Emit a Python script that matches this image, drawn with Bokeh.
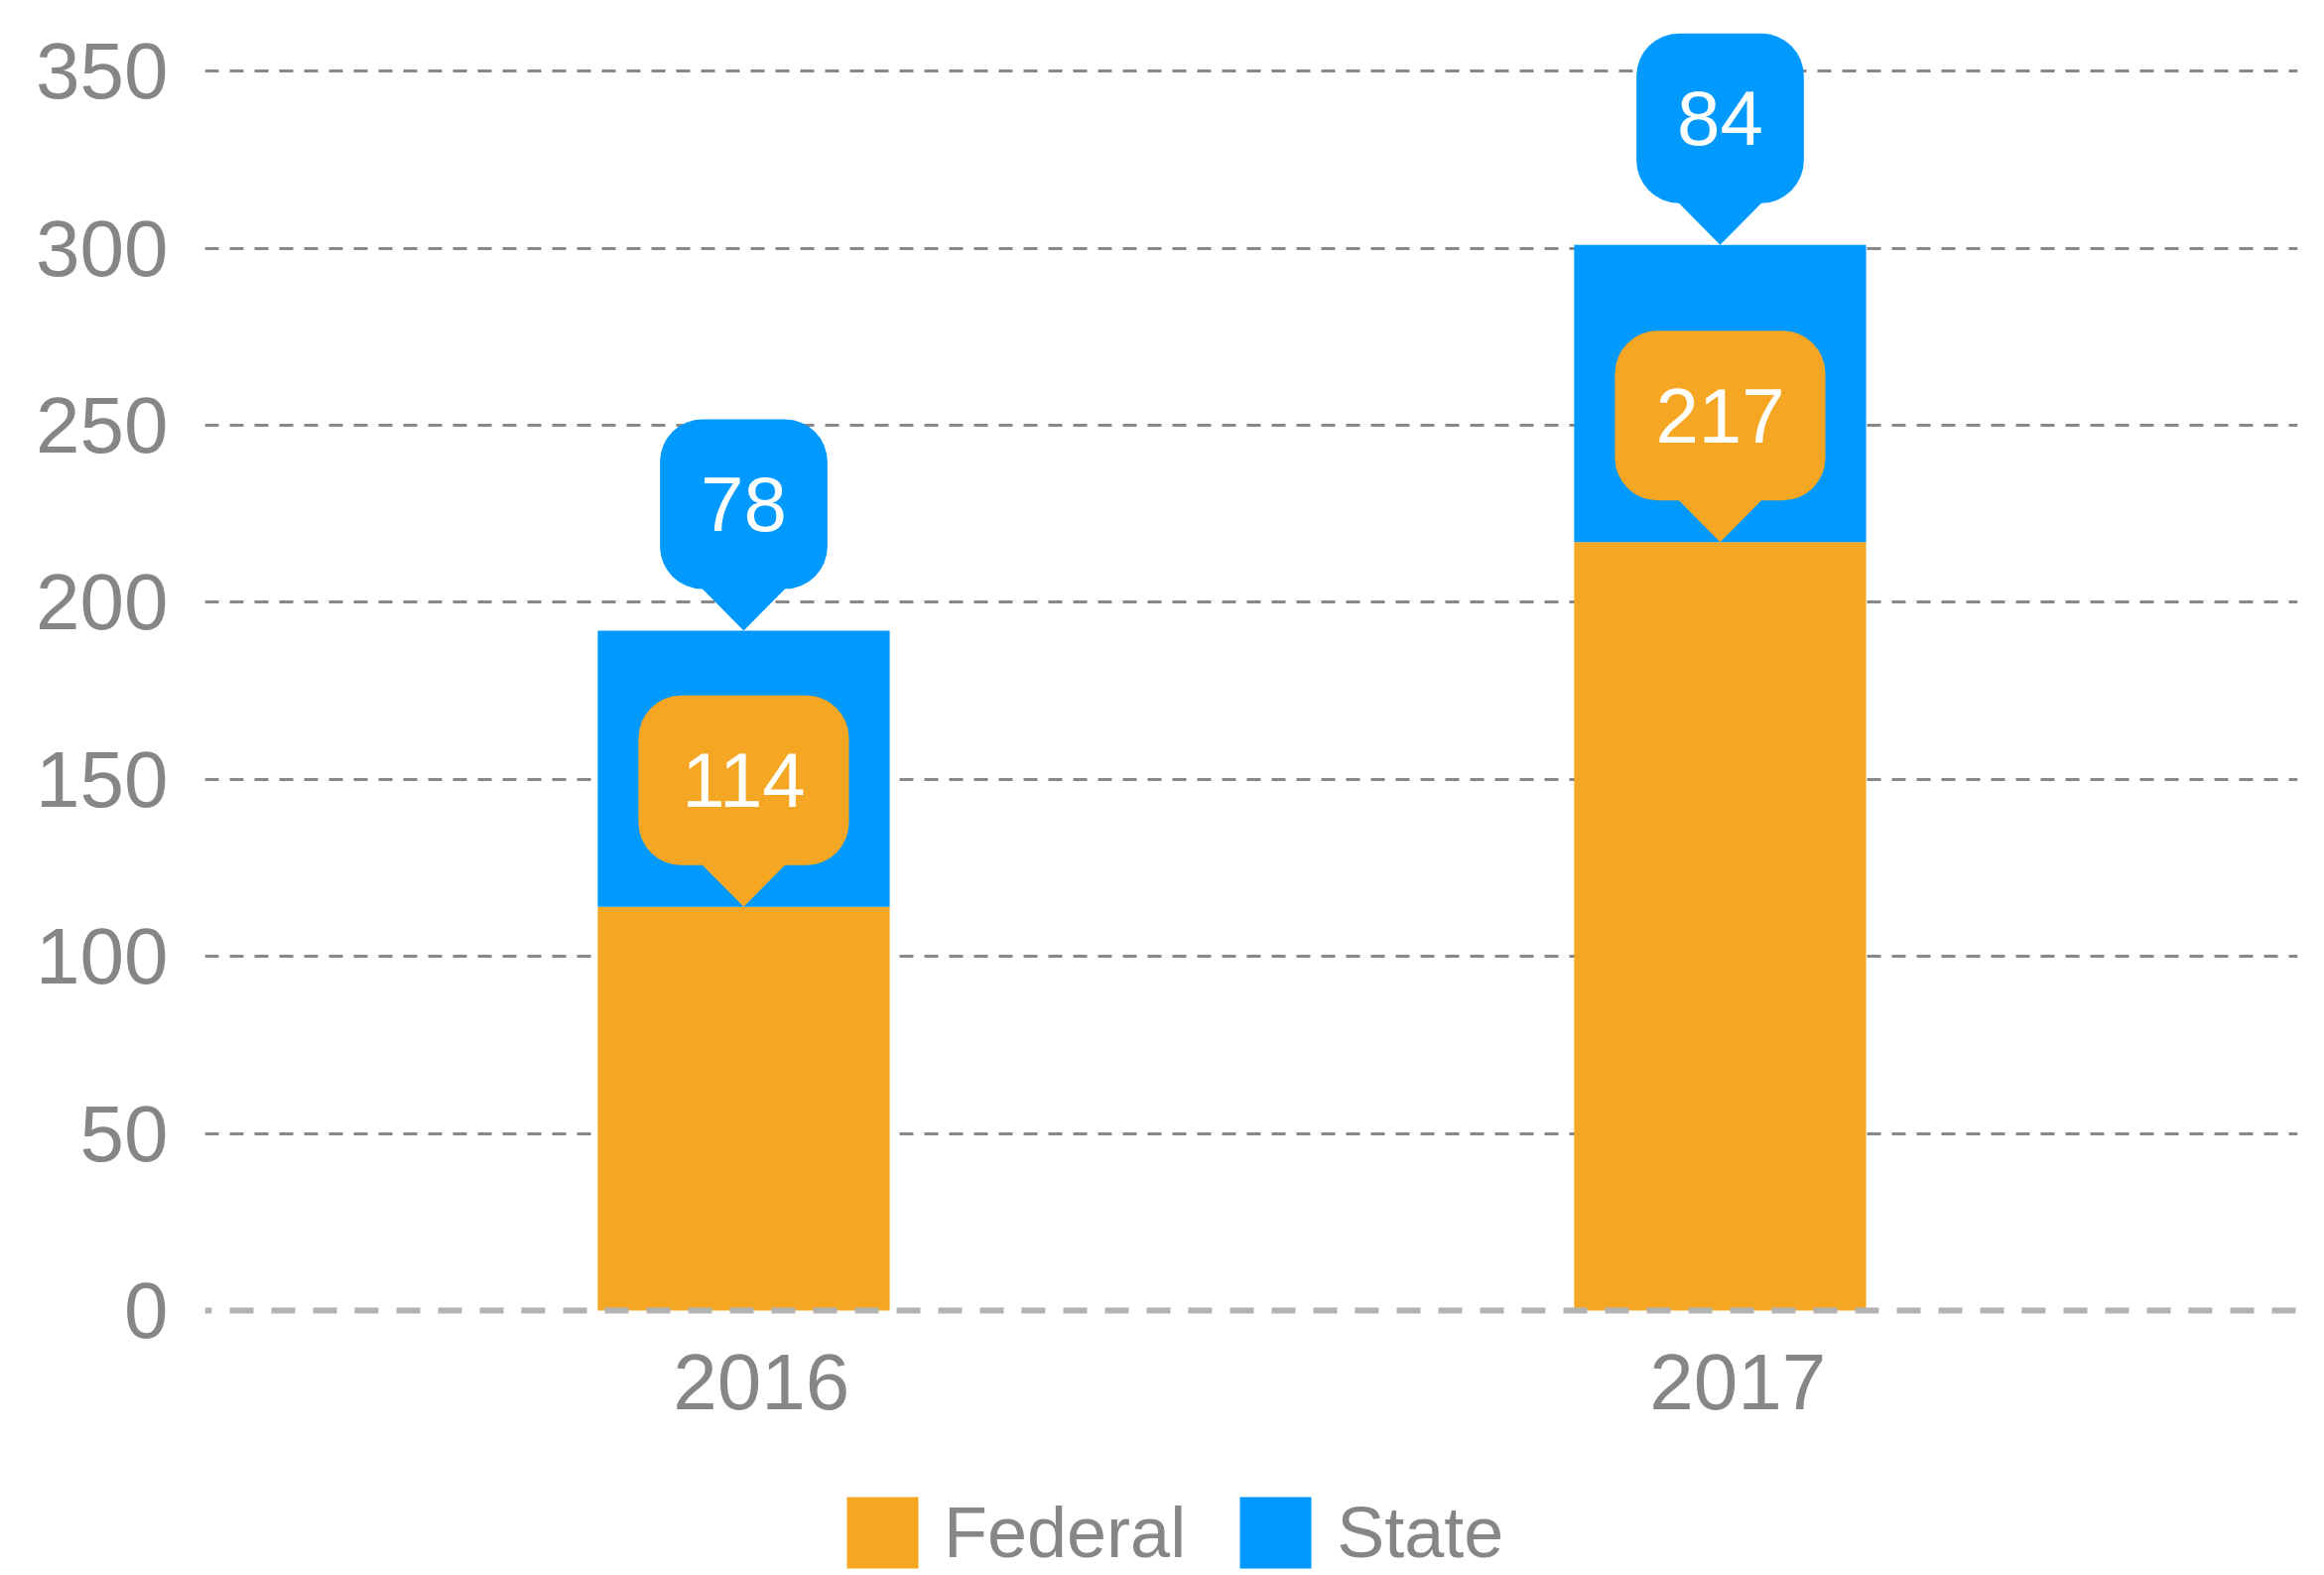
from bokeh.plotting import figure
from bokeh.models import Range1d, FixedTicker, Legend, LegendItem, ColumnDataSource, Span
from bokeh.core.properties import value
from bokeh.embed import file_html
from bokeh.resources import INLINE

# ---- data ----
years = ["2016", "2017"]
federal = [114, 217]
state = [78, 84]
y_ticks = [0, 50, 100, 150, 200, 250, 300, 350]

FED_C = "#F5A623"
STATE_C = "#009AFF"
TXT_C = "#868686"
FONT = "Liberation Sans"

FRAME_W, FRAME_H = 2109, 1587
ZERO_PX = 1320          # pixel row of value 0 from top
Y1 = 370
ky = ZERO_PX / Y1       # px per y unit
Y0 = -(FRAME_H - ZERO_PX) / ky
X0, X1 = -0.5518, 1.5915
kx = FRAME_W / (X1 - X0)   # px per x unit

p = figure(frame_width=FRAME_W, frame_height=FRAME_H,
           x_range=Range1d(X0, X1), y_range=Range1d(Y0, Y1),
           output_backend="svg", toolbar_location=None,
           min_border_left=206, min_border_right=27, min_border_top=0,
           min_border_bottom=0)
p.outline_line_color = None
p.background_fill_color = "white"

xs = list(range(len(years)))
tops_total = [f + s for f, s in zip(federal, state)]

src = ColumnDataSource(dict(x=xs, fed=federal, tot=tops_total,
                            zero=[0] * len(xs)))
r_fed = p.vbar(x="x", bottom="zero", top="fed", width=0.299, source=src,
               fill_color=FED_C, line_color=None)
r_state = p.vbar(x="x", bottom="fed", top="tot", width=0.299, source=src,
                 fill_color=STATE_C, line_color=None)

# zero baseline (dashed, light grey)
p.add_layout(Span(location=0, dimension="width", line_color="#b3b3b3",
                  line_width=6, line_dash="24 18", line_dash_offset=17))

# ---- callouts ----
PTR_H, BOX_H, HALF_BASE = 42, 171, 42.5
FS = 78

def callout(x_list, tips, labels, color):
    widths = [(0.556 * FS * len(t) + 82) / kx for t in labels]
    d = dict(
        left=[x - w / 2 for x, w in zip(x_list, widths)],
        right=[x + w / 2 for x, w in zip(x_list, widths)],
        bottom=[t + PTR_H / ky for t in tips],
        top=[t + (PTR_H + BOX_H) / ky for t in tips],
        ty=[t + (PTR_H + BOX_H / 2) / ky for t in tips],
        x=x_list, text=labels,
    )
    cs = ColumnDataSource(d)
    p.quad(left="left", right="right", bottom="bottom", top="top", source=cs,
           fill_color=color, line_color=None, border_radius=43)
    pxs = [[x - HALF_BASE / kx, x + HALF_BASE / kx, x] for x in x_list]
    pys = [[t + (PTR_H + 1) / ky, t + (PTR_H + 1) / ky, t] for t in tips]
    p.patches(xs=pxs, ys=pys, fill_color=color, line_color=None)
    p.text(x="x", y="ty", text="text", source=cs, text_align="center",
           text_baseline="middle", text_color="white",
           text_font=value(FONT), text_font_size=f"{FS}px")

callout(xs, federal, [str(v) for v in federal], FED_C)
callout(xs, tops_total, [str(v) for v in state], STATE_C)

# ---- y axis ----
p.yaxis.ticker = FixedTicker(ticks=y_ticks)
p.yaxis.axis_line_color = None
p.yaxis.major_tick_line_color = None
p.yaxis.minor_tick_line_color = None
p.yaxis.major_tick_out = 0
p.yaxis.major_label_standoff = 37
p.yaxis.major_label_text_font = FONT
p.yaxis.major_label_text_font_size = "80px"
p.yaxis.major_label_text_color = TXT_C

p.ygrid.ticker = FixedTicker(ticks=[t for t in y_ticks if t > 0])
p.ygrid.grid_line_color = "#888888"
p.ygrid.grid_line_width = 3
p.ygrid.grid_line_dash = "14 11"
p.ygrid.level = "underlay"
p.xgrid.grid_line_color = None

# ---- x category labels (below the baseline) ----
p.xaxis.visible = False
lab_src = ColumnDataSource(dict(x=[i + 0.018 for i in xs], text=years,
                                y=[-72 / ky] * len(xs)))
p.text(x="x", y="y", text="text", source=lab_src, text_align="center",
       text_baseline="alphabetic", text_color=TXT_C,
       text_font=value(FONT), text_font_size="80px")

# ---- legend ----
legend = Legend(items=[LegendItem(label="Federal", renderers=[r_fed]),
                       LegendItem(label="State", renderers=[r_state])],
                orientation="horizontal", location=(638, -2),
                glyph_width=90, glyph_height=90, label_standoff=17, spacing=45,
                padding=0, margin=0, border_line_color=None,
                background_fill_alpha=0,
                label_text_font=FONT, label_text_font_size="72px",
                label_text_color=TXT_C, label_height=72)
p.add_layout(legend, "center")

open("out.html", "w").write(file_html(p, INLINE))
